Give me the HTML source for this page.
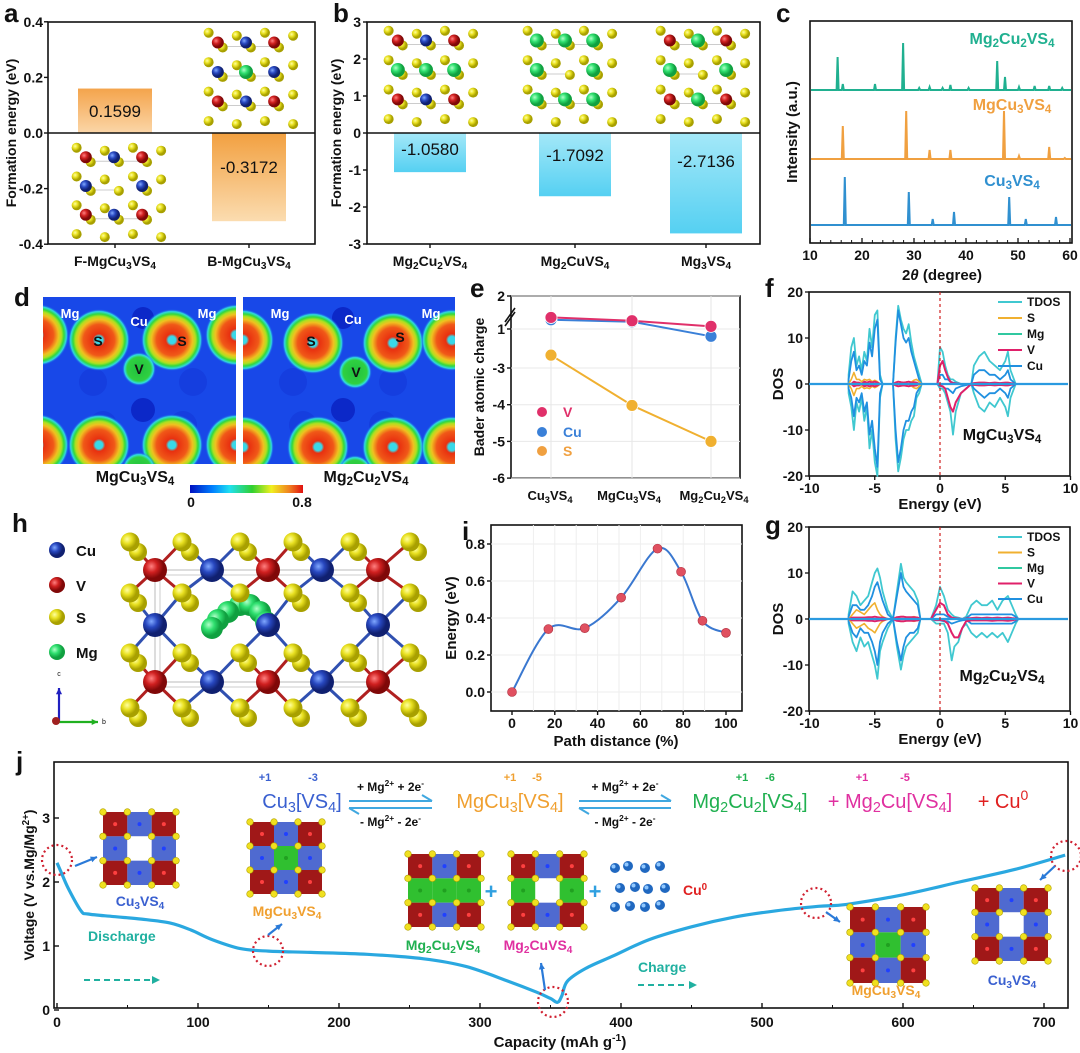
<!DOCTYPE html>
<html><head><meta charset="utf-8"><style>
html,body{margin:0;padding:0;background:#fff;}
svg{display:block;font-family:"Liberation Sans",Arial,sans-serif;font-weight:bold;}
</style></head><body>
<svg id="fig" width="1080" height="1053" viewBox="0 0 1080 1053" xmlns="http://www.w3.org/2000/svg">
<defs>
<linearGradient id="gOrUp" x1="0" y1="0" x2="0" y2="1"><stop offset="0" stop-color="#f4a44c"/><stop offset="1" stop-color="#fbd6a8"/></linearGradient>
<linearGradient id="gOrDn" x1="0" y1="0" x2="0" y2="1"><stop offset="0" stop-color="#f2a040"/><stop offset="1" stop-color="#fbdcb0"/></linearGradient>
<linearGradient id="gCy" x1="0" y1="0" x2="0" y2="1"><stop offset="0" stop-color="#a4e8f8"/><stop offset="1" stop-color="#55d0f2"/></linearGradient>
<radialGradient id="hS"><stop offset="0" stop-color="#38d8e8"/><stop offset="0.12" stop-color="#38d8e8"/><stop offset="0.2" stop-color="#e83010"/><stop offset="0.5" stop-color="#f05818"/><stop offset="0.66" stop-color="#f0c020"/><stop offset="0.76" stop-color="#b0e020"/><stop offset="0.84" stop-color="#30d840"/><stop offset="0.92" stop-color="#30d8e0"/><stop offset="1" stop-color="#1848e8" stop-opacity="0"/></radialGradient>
<radialGradient id="hV"><stop offset="0" stop-color="#20c040"/><stop offset="0.7" stop-color="#30d040"/><stop offset="0.85" stop-color="#30e0e0"/><stop offset="1" stop-color="#1848e8" stop-opacity="0"/></radialGradient>
<linearGradient id="cbar" x1="0" x2="1"><stop offset="0" stop-color="#0010c0"/><stop offset="0.2" stop-color="#0080ff"/><stop offset="0.35" stop-color="#20e0f0"/><stop offset="0.55" stop-color="#30d030"/><stop offset="0.72" stop-color="#f0f020"/><stop offset="0.88" stop-color="#f08020"/><stop offset="1" stop-color="#e01010"/></linearGradient>
<radialGradient id="bR" cx="0.35" cy="0.35"><stop offset="0" stop-color="#ff8080"/><stop offset="0.5" stop-color="#d02020"/><stop offset="1" stop-color="#800808"/></radialGradient>
<radialGradient id="bB" cx="0.35" cy="0.35"><stop offset="0" stop-color="#80a8ff"/><stop offset="0.5" stop-color="#2848c0"/><stop offset="1" stop-color="#102070"/></radialGradient>
<radialGradient id="bY" cx="0.35" cy="0.35"><stop offset="0" stop-color="#ffffa0"/><stop offset="0.5" stop-color="#e8e020"/><stop offset="1" stop-color="#a8a000"/></radialGradient>
<radialGradient id="bG" cx="0.35" cy="0.35"><stop offset="0" stop-color="#b0ffc8"/><stop offset="0.5" stop-color="#30e070"/><stop offset="1" stop-color="#10a040"/></radialGradient>
<clipPath id="clipL"><rect x="43" y="297" width="193" height="167"/></clipPath>
<clipPath id="clipR"><rect x="243" y="297" width="212" height="167"/></clipPath>
</defs>
</svg>
<script>
// ---------- data ----------
const aCats = ['F-MgCu3VS4','B-MgCu3VS4'];
const aVals = [0.1599, -0.3172];
const aTicks = [0.4,0.2,0.0,-0.2,-0.4];
const bCats = ['Mg2Cu2VS4','Mg2CuVS4','Mg3VS4'];
const bVals = [-1.0580, -1.7092, -2.7136];
const bTicks = [3,2,1,0,-1,-2,-3];
const cTicks = [10,20,30,40,50,60];
const cNames = ['Mg2Cu2VS4','MgCu3VS4','Cu3VS4'];
const cPos1 = [15.3,16.3,22.5,27.9,31,33,35.5,37,40.5,46,47.5,50.2,53.2,56,58.5];
const cInt1 = [33,6,6,47,2,3,2,5,2,29,13,3,4,4,2];
const cPos2 = [16.3,28.5,33,37,47.3,50.2,56,59];
const cInt2 = [33,48,9,9,48,3,12,1];
const cPos3 = [16.7,29,33.6,37.7,48.3,51.5,57.3];
const cInt3 = [48,33,6,13,28,6,8];
const eCats = ['Cu3VS4','MgCu3VS4','Mg2Cu2VS4'];
const eV = [1.35, 1.25, 1.08];
const eCu = [1.28, 1.22, 0.78];
const eS = [-2.65, -4.02, -5.0];
const eTicks = [2,1,-3,-4,-5,-6];
const fE = [-7,-6.8,-6.6,-6.4,-6.2,-6,-5.8,-5.6,-5.4,-5.2,-5,-4.8,-4.6,-4.4,-3.6,-3.4,-3.2,-3,-2.8,-2.6,-2.4,-2.2,-2,-1.8,-1.6,-1.4,-0.2,0,0.2,0.4,0.6,0.8,1,1.2,1.6,2.4,2.6,3,3.4,3.8,4.2,4.6,5,5.2,5.4,5.8];
const fTup = [2,8,10,4,6,3,7,5,12,8,15,16,2,0,0,10,17,14,12,11,13,9,6,4,2,0,0,8,7,4,2,1,1,0.5,0,0,4,6,7,5,4,3,5,7,3,0];
const fTdn = [-2,-5,-10,-4,-6,-3,-8,-5,-14,-10,-17,-20,-3,0,0,-12,-19,-16,-12,-10,-10,-8,-7,-3,-2,0,0,-1,-1,-2,-4,-6,-11,-6,-2,0,-2,-5,-6,-4,-5,-3,-5,-7,-3,0];
const fCuUp = [1,5,7,3,4,2,5,4,9,6,12,14,1,0,0,9,16,13,10,9,10,7,5,3,1,0,0,2,2,1,1,0.5,0.3,0.2,0,0,2,3,3,2,2,1,2,3,1,0];
const fCuDn = [-1,-3,-7,-3,-4,-2,-6,-4,-11,-8,-14,-18,-2,0,0,-10,-17,-14,-10,-8,-8,-6,-5,-2,-1,0,0,-0.5,-0.5,-1,-1,-1.5,-2,-1,-0.5,0,-1,-2,-3,-2,-2,-1,-2,-3,-1,0];
const fVUp = [0,0,0.5,0.3,0.3,0,0.5,0.3,0.5,0.3,0.5,0.3,0,0,0,0.3,0.5,0.4,0.3,0.4,0.5,0.3,0.4,0.3,0,0,0,4,5,3,1.5,0.5,0.2,0.1,0,0,0.2,0.3,0.3,0.2,0.3,0.2,0.3,0.3,0.2,0];
const fVDn = [0,0,-0.5,-0.3,-0.3,0,-0.5,-0.3,-0.5,-0.3,-0.5,-0.3,0,0,0,-0.3,-0.5,-0.4,-0.3,-0.4,-0.5,-0.3,-0.4,-0.3,0,0,0,-0.3,-0.5,-1,-3,-5,-6,-4,-2,0,-0.2,-0.3,-0.3,-0.2,-0.3,-0.2,-0.3,-0.3,-0.2,0];
const fSUp = [0,1,2.5,1,1,0.5,1,0.8,1,0.5,0.8,0.5,0,0,0,0.3,0.5,0.4,0.3,0.4,0.5,0.4,0.8,1,0.5,0,0,0,0,0,0,0,0,0,0,0,0,0,0,0,0,0,0,0,0,0];
const fSDn = [0,-1,-2.5,-1,-1,-0.5,-1,-0.8,-1,-0.5,-0.8,-0.5,0,0,0,-0.3,-0.5,-0.4,-0.3,-0.4,-0.5,-0.4,-0.8,-1,-0.5,0,0,0,0,0,0,0,0,0,0,0,0,0,0,0,0,0,0,0,0,0];
const gE = [-7,-6.7,-6.4,-6.1,-5.8,-5.5,-5.2,-5,-4.8,-4.6,-4.4,-4,-3.6,-3.3,-3,-2.8,-2.6,-2.3,-2,-1.7,-1.5,-0.7,-0.3,0,0.3,0.6,0.9,1.1,1.4,1.7,2,2.4,2.8,3.2,3.6,4,4.4,4.8,5.2,5.5,5.8,6];
const gTup = [1,6,5,3,4,5,8,10,11,9,6,2,0,6,12,9,8,7,6,4,0,0,3,7,5,2,1,0.5,0.3,0,0.5,3,4,3,3,4,2,4,5,3,1,0];
const gTdn = [-1,-5,-7,-4,-6,-5,-8,-10,-13,-7,-5,-2,0,-6,-11,-8,-6,-5,-4,-3,0,0,-1,-1,-1,-3,-9,-6,-5,-2,-1,-3,-4,-3,-4,-3,-4,-3,-5,-3,-1,0];
const gCuUp = [0.5,3,3,2,2,3,5,7,8,6,4,1,0,5,10,7,6,5,4,3,0,0,1,1,1,0.5,0.3,0.2,0.1,0,0.2,1,1,1,1,1,1,1,1,1,0.5,0];
const gCuDn = [-0.5,-3,-4,-2,-3,-3,-5,-7,-10,-5,-3,-1,0,-5,-9,-6,-4,-3,-3,-2,0,0,-0.3,-0.3,-0.5,-0.5,-1,-0.8,-0.5,-0.3,-0.2,-1,-1,-1,-1,-1,-1,-1,-1,-1,-0.5,0];
const gVUp = [0,0.3,0.3,0.3,0.3,0.4,0.4,0.5,0.4,0.3,0.3,0,0,0.4,0.5,0.5,0.4,0.4,0.4,0.3,0,0,2,3.5,3,1,0.3,0.2,0.1,0,0.1,0.2,0.3,0.2,0.3,0.2,0.3,0.2,0.3,0.2,0.1,0];
const gVDn = [0,-0.3,-0.3,-0.3,-0.3,-0.4,-0.4,-0.5,-0.4,-0.3,-0.3,0,0,-0.4,-0.5,-0.5,-0.4,-0.4,-0.4,-0.3,0,0,-0.2,-0.2,-0.3,-1,-3,-4,-4,-2,-0.5,-0.3,-0.3,-0.3,-0.3,-0.4,-0.3,-0.3,-0.4,-0.3,-0.1,0];
const gSUp = [0,1,2,1.5,1,2,3,3.5,2,1,0.5,0,0,0.3,0.5,0.5,0.4,0.3,0.5,0.3,0,0,0,0,0,0,0,0,0,0,0,0,0,0,0,0,0,0,0,0,0,0];
const gSDn = [0,-1,-2,-1.5,-1,-2,-2.5,-3,-2,-1,-0.5,0,0,-0.3,-0.5,-0.5,-0.4,-0.3,-0.5,-0.3,0,0,0,0,0,0,0,0,0,0,0,0,0,0,0,0,0,0,0,0,0,0];
const dosTicksX = [-10,-5,0,5,10];
const dosTicksY = [20,10,0,-10,-20];
const dosLegend = ['TDOS','S','Mg','V','Cu'];
const iDist = [0,17,34,51,68,79,89,100];
const iEnergy = [0.0,0.34,0.345,0.51,0.775,0.65,0.385,0.32];
const iTicksX = [0,20,40,60,80,100];
const iTicksY = [0.0,0.2,0.4,0.6,0.8];
const jCap = [0,3,8,17,22,40,60,80,95,110,130,150,180,220,260,290,320,340,350,355,358,362,375,395,420,450,480,510,540,560,600,640,680,715];
const jVolt = [2.3,2.15,1.9,1.55,1.5,1.46,1.42,1.36,1.25,1.1,0.96,0.92,0.9,0.87,0.8,0.68,0.45,0.28,0.18,0.12,0.22,0.45,0.65,0.85,1.1,1.3,1.45,1.55,1.62,1.65,1.8,2.0,2.2,2.42];
const jTicksX = [0,100,200,300,400,500,600,700];
const jTicksY = [0,1,2,3];

// ---------- helpers ----------
const NS='http://www.w3.org/2000/svg';
const svg=document.getElementById('fig');
function mk(tag,attrs,parent){const e=document.createElementNS(NS,tag);for(const k in attrs)e.setAttribute(k,attrs[k]);(parent||svg).appendChild(e);return e;}
function fmla(s){return s.replace(/([A-Za-z\]])(\d)/g,'$1<tspan baseline-shift="-28%" font-size="72%">$2</tspan>');}
function T(x,y,s,size,opt){opt=opt||{};const t=mk('text',{x:x,y:y,'font-size':size,'text-anchor':opt.a||'middle',fill:opt.c||'#111'},opt.p);if(opt.r)t.setAttribute('transform','rotate(-90 '+x+' '+y+')');if(opt.n)t.setAttribute('font-weight','normal');t.innerHTML=opt.f?fmla(s):s;return t;}
function frame(x0,y0,x1,y1,name){const r=mk('rect',{x:x0,y:y0,width:x1-x0,height:y1-y0,fill:'none',stroke:'#111','stroke-width':1.6});return r;}
function path(pts){return pts.map((p,i)=>(i?'L':'M')+p[0].toFixed(1)+' '+p[1].toFixed(1)).join(' ');}
function smooth(pts){let d='M'+pts[0][0]+' '+pts[0][1];for(let i=0;i<pts.length-1;i++){const p0=pts[i-1]||pts[i],p1=pts[i],p2=pts[i+1],p3=pts[i+2]||p2;d+=' C'+(p1[0]+(p2[0]-p0[0])/6)+' '+(p1[1]+(p2[1]-p0[1])/6)+' '+(p2[0]-(p3[0]-p1[0])/6)+' '+(p2[1]-(p3[1]-p1[1])/6)+' '+p2[0]+' '+p2[1];}return d;}
function ball(cx,cy,r,g,parent){return mk('circle',{cx:cx,cy:cy,r:r,fill:'url(#'+g+')'},parent);}
function letter(x,y,s){const t=T(x,y,s,26,{a:'start'});}

function miniCrystal(x,y,w,h,rows,name){const g=mk('g',{});
 const cols={R:'bR',B:'bB',G:'bG'};
 for(let r=0;r<3;r++)for(let c=0;c<3;c++){const ch=rows[r][c];const cx=x+w*(0.18+0.32*c),cy=y+h*(0.18+0.32*r);
  if(ch!=='W'){mk('line',{x1:cx,y1:cy,x2:cx+w*0.32*(c<2?1:0),y2:cy,stroke:'#ccc','stroke-width':1},g);}}
 for(let r=0;r<4;r++)for(let c=0;c<4;c++){ball(x+w*(0.03+0.32*c),y+h*(0.03+0.32*r)+(c%2?3:0),5,'bY',g);}
 for(let r=0;r<3;r++)for(let c=0;c<3;c++){ball(x+w*(0.19+0.32*c),y+h*(0.19+0.32*r),5,'bY',g);}
 for(let r=0;r<3;r++)for(let c=0;c<3;c++){const ch=rows[r][c];if(ch==='W')continue;ball(x+w*(0.18+0.32*c)-4,y+h*(0.18+0.32*r)-4,ch==='G'?7:6,cols[ch],g);}
 return g;}
function tile(x,y,s,rows,name){const g=mk('g',{});
 const col={R:'#a01818',B:'#3050c8',G:'#30c030',W:'#ffffff'},dot={R:'#ff4040',B:'#2040ff',G:'#20a020'};const c=s/3;
 for(let r=0;r<3;r++)for(let k=0;k<3;k++){const ch=rows[r][k];mk('rect',{x:x+k*c,y:y+r*c,width:c,height:c,fill:col[ch],opacity:ch==='B'?0.85:1},g);if(ch!=='W')mk('circle',{cx:x+k*c+c/2,cy:y+r*c+c/2,r:2,fill:dot[ch]},g);}
 for(let r=0;r<4;r++)for(let k=0;k<4;k++)mk('circle',{cx:x+k*c,cy:y+r*c,r:3.3,fill:'#f0e020',stroke:'#b0a000','stroke-width':0.6},g);
 return g;}
function arrow(x1,y1,x2,y2,col,name){const g=mk('g',{});
 mk('line',{x1:x1,y1:y1,x2:x2,y2:y2,stroke:col,'stroke-width':2.2},g);const a=Math.atan2(y2-y1,x2-x1),L=7;
 mk('path',{d:'M'+x2+' '+y2+' L'+(x2-L*Math.cos(a-0.45))+' '+(y2-L*Math.sin(a-0.45))+' L'+(x2-L*Math.cos(a+0.45))+' '+(y2-L*Math.sin(a+0.45))+'Z',fill:col},g);return g;}

// ================= Panel a =================
letter(4,22,'a');
const ay=v=>133-v*278;
frame(48,22,315,244,'panel-a-plot-frame');
miniCrystal(206,30,88,92,['RBR','BGB','RBR'],'b-mgcu3vs4-structure');
miniCrystal(74,145,88,90,['RBR','BWB','RBR'],'f-mgcu3vs4-structure');
const aCx=[115,249];
aVals.forEach((v,i)=>{const y0=ay(0),y1=ay(v);const r=mk('rect',{x:aCx[i]-37,y:Math.min(y0,y1),width:74,height:Math.abs(y1-y0),fill:v>0?'url(#gOrUp)':'url(#gOrDn)'});
 
 const t=T(aCx[i],(y0+y1)/2+(v>0?6:-4),v.toFixed(4),17,{n:1});
 const xl=T(aCx[i],266,aCats[i],14,{f:1});
 mk('line',{x1:aCx[i],y1:244,x2:aCx[i],y2:248,stroke:'#111','stroke-width':1.4});});
mk('line',{x1:48,y1:ay(0),x2:315,y2:ay(0),stroke:'#111','stroke-width':1.4});
aTicks.forEach(v=>{mk('line',{x1:44,y1:ay(v),x2:48,y2:ay(v),stroke:'#111','stroke-width':1.4});const t=T(43,ay(v)+5,v.toFixed(1),14,{a:'end'});});
{const t=T(16,133,'Formation energy (eV)',14,{r:1});}

// ================= Panel b =================
letter(333,22,'b');
const by=v=>133-v*37;
frame(367,22,760,244,'panel-b-plot-frame');
const bCx=[430,575,706];
miniCrystal(386,28,88,92,['RBR','GGG','RBR'],'mg2cu2vs4-structure');
miniCrystal(525,28,88,92,['GGG','GWG','GGG'],'mg2cuvs4-structure');
miniCrystal(658,28,88,92,['RGR','GWG','RGR'],'mg3vs4-structure');
bVals.forEach((v,i)=>{const y0=by(0),y1=by(v);const r=mk('rect',{x:bCx[i]-36,y:y0,width:72,height:y1-y0,fill:'url(#gCy)'});
 
 const t=T(bCx[i],y0+22+i*6,v.toFixed(4),17,{n:1});
 const xl=T(bCx[i],266,bCats[i],14,{f:1});
 mk('line',{x1:bCx[i],y1:244,x2:bCx[i],y2:248,stroke:'#111','stroke-width':1.4});});
mk('line',{x1:367,y1:by(0),x2:760,y2:by(0),stroke:'#111','stroke-width':1.4});
bTicks.forEach(v=>{mk('line',{x1:363,y1:by(v),x2:367,y2:by(v),stroke:'#111','stroke-width':1.4});const t=T(361,by(v)+5,String(v),14,{a:'end'});});
{const t=T(341,133,'Formation energy (eV)',14,{r:1});}

// ================= Panel c =================
letter(776,22,'c');
const cx=d=>810+(d-10)*5.2;
frame(810,21,1072,243,'panel-c-plot-frame');
const cBase=[90,159,225],cCol=['#20b090','#f0a040','#3090d0'],cP=[cPos1,cPos2,cPos3],cI=[cInt1,cInt2,cInt3];
cP.forEach((pos,k)=>{let pts=[[811,cBase[k]]];pos.forEach((p,i)=>{const x=cx(p);pts.push([x-1,cBase[k]],[x,cBase[k]-cI[k][i]],[x+1,cBase[k]]);});pts.push([1071,cBase[k]]);
 const pl=mk('path',{d:path(pts),fill:'none',stroke:cCol[k],'stroke-width':2});
 const t=T(1012,[44,110,186][k],cNames[k],16,{f:1,c:cCol[k]});});
cTicks.forEach(v=>{mk('line',{x1:cx(v),y1:243,x2:cx(v),y2:238,stroke:'#111','stroke-width':1.3});const t=T(cx(v),260,String(v),14);});
for(let v=12;v<60;v+=2)mk('line',{x1:cx(v),y1:243,x2:cx(v),y2:240,stroke:'#111','stroke-width':1});
{const t=T(942,280,'2<tspan font-style="italic">θ</tspan>  (degree)',15);}
{const t=T(797,132,'Intensity (a.u.)',15,{r:1});}

// ================= Panel d =================
letter(14,306,'d');
function heat(ox,clip,name,Sx,Vx){const g=mk('g',{'clip-path':'url(#'+clip+')'});
 mk('rect',{x:ox-10,y:297,width:230,height:167,fill:'#1848e8'},g);
 [[ox+50,382],[ox+150,382],[ox+60,425],[ox+140,425]].forEach(p=>mk('circle',{cx:p[0],cy:p[1],r:14,fill:'#1438d8',opacity:0.6},g));
 mk('circle',{cx:ox+100,cy:410,r:12,fill:'#0c28c8'},g);
 mk('circle',{cx:ox+100,cy:318,r:11,fill:'#0c28c8'},g);
 Sx.forEach(p=>mk('circle',{cx:p[0],cy:p[1],r:31,fill:'url(#hS)'},g));
 mk('circle',{cx:Vx[0],cy:Vx[1],r:17,fill:'url(#hV)'},g);
 mk('circle',{cx:Vx[0],cy:Vx[1]+100,r:17,fill:'url(#hV)'},g);return g;}
heat(43,'clipL','charge-density-mgcu3vs4',[[99,340],[172,340],[99,445],[172,445],[38,335],[236,335],[38,445],[236,445]],[139,369]);
heat(243,'clipR','charge-density-mg2cu2vs4',[[313,343],[393,343],[318,447],[393,447],[243,340],[452,340],[243,447],[452,447]],[355,372]);
[['Mg',70,318],['Cu',139,326],['Mg',207,318],['Mg',280,318],['Cu',353,324],['Mg',431,318]].forEach((l,i)=>{const t=T(l[1],l[2],l[0],13,{c:'#fff'});});
[['S',98,346],['S',182,346],['V',139,374],['S',311,346],['S',400,342],['V',356,377]].forEach((l,i)=>{const t=T(l[1],l[2],l[0],14);});
{const t=T(135,482,'MgCu3VS4',16,{f:1});}
{const t=T(366,482,'Mg2Cu2VS4',16,{f:1});}
{const r=mk('rect',{x:190,y:485,width:113,height:8,fill:'url(#cbar)'});}
T(191,507,'0',14);T(302,507,'0.8',14);

// ================= Panel e =================
letter(470,297,'e');
const exs=[551,632,711];
const ey=v=>v>0?329-(v-1)*33:368-(v+3)*36.7;
frame(511,296,740,478,'panel-e-plot-frame');
for(let i=0;i<3;i++)mk('line',{x1:exs[i],y1:296,x2:exs[i],y2:478,stroke:'#e4e4e4','stroke-width':1});
eTicks.forEach(v=>{mk('line',{x1:511,y1:ey(v),x2:740,y2:ey(v),stroke:'#e8e8e8','stroke-width':1});mk('line',{x1:507,y1:ey(v),x2:511,y2:ey(v),stroke:'#111','stroke-width':1.4});const t=T(505,ey(v)+5,String(v),14,{a:'end'});});
mk('line',{x1:505,y1:322,x2:515,y2:308,stroke:'#111','stroke-width':1.6});mk('line',{x1:505,y1:326,x2:515,y2:312,stroke:'#111','stroke-width':1.6});
[[eS,'#f0b030','s'],[eCu,'#3a80d8','cu'],[eV,'#e0306a','v']].forEach(s=>{const pl=mk('path',{d:path(s[0].map((v,i)=>[exs[i],ey(v)])),fill:'none',stroke:s[1],'stroke-width':2});
 s[0].forEach((v,i)=>{const c=mk('circle',{cx:exs[i],cy:ey(v),r:6,fill:s[1],stroke:'#fff','stroke-width':0.8});});});
eCats.forEach((c,i)=>{const t=T([550,629,714][i],500,c,13,{f:1});});
[['V','#e0306a',417],['Cu','#3a80d8',437],['S','#f0a040',456]].forEach(l=>{mk('circle',{cx:542,cy:l[2]-5,r:5,fill:l[1]});const t=T(563,l[2],l[0],14,{a:'start',c:l[1]});});
{const t=T(484,387,'Bader atomic charge',14,{r:1});}

// ================= DOS panels f,g =================
function dos(pref,top,bot,E,Tu,Td,Cu,Cd,Vu,Vd,Su,Sd,label){
 const zero=(top+bot)/2,sc=(bot-top)/40;const X=e=>940+e*13.05,Y=v=>zero-v*sc;
 frame(809,top,1070,bot,'panel-'+pref+'-plot-frame');
 const draw=(arr,col,w,nm)=>{const pts=[[X(E[0]),Y(0)]].concat(arr.map((v,i)=>[X(E[i]),Y(v)]));const pl=mk('path',{d:path(pts),fill:'none',stroke:col,'stroke-width':w,'stroke-linejoin':'round'});};
 draw(Tu,'#40c8d0',1.8,'tdos-up-'+pref);draw(Td,'#40c8d0',1.8,'tdos-down-'+pref);
 draw(Cu,'#2090e0',1.8,'cu-up-'+pref);draw(Cd,'#2090e0',1.8,'cu-down-'+pref);
 draw(Su,'#f0b030',1.6,'s-up-'+pref);draw(Sd,'#f0b030',1.6,'s-down-'+pref);
 draw(Vu,'#e0206a',2,'v-up-'+pref);draw(Vd,'#e0206a',2,'v-down-'+pref);
 mk('line',{x1:809,y1:zero,x2:1068,y2:zero,stroke:'#2a9ae0','stroke-width':2.2});
 mk('line',{x1:X(0),y1:top,x2:X(0),y2:bot,stroke:'#d02020','stroke-width':1.2,'stroke-dasharray':'3,3'});
 dosTicksX.forEach(v=>{mk('line',{x1:X(v),y1:bot,x2:X(v),y2:bot+4,stroke:'#111','stroke-width':1.3});const t=T(X(v),bot+17,String(v),14);});
 dosTicksY.forEach(v=>{mk('line',{x1:805,y1:Y(v),x2:809,y2:Y(v),stroke:'#111','stroke-width':1.3});const t=T(803,Y(v)+5,String(v),14,{a:'end'});});
 const cols=['#40c8d0','#f0b030','#30c8a0','#e0206a','#2090e0'];
 dosLegend.forEach((l,i)=>{const y=top+10+i*(pref=='f'?16:15.5);mk('line',{x1:998,y1:y,x2:1022,y2:y,stroke:cols[i],'stroke-width':2});const t=T(1027,y+4,l,12,{a:'start'});});
 {const t=T(1002,bot-(pref=='f'?36:30),label,16,{f:1});}
 {const t=T(940,bot+33,'Energy (eV)',15);}
 {const t=T(783,zero,'DOS',15,{r:1});}
}
letter(765,297,'f');
dos('f',292,476,fE,fTup,fTdn,fCuUp,fCuDn,fVUp,fVDn,fSUp,fSDn,'MgCu3VS4');
letter(765,534,'g');
dos('g',527,711,gE,gTup,gTdn,gCuUp,gCuDn,gVUp,gVDn,gSUp,gSDn,'Mg2Cu2VS4');

// ================= Panel h =================
letter(12,532,'h');
{const g=mk('g',{});
 mk('rect',{x:155,y:570,width:223,height:112,fill:'none',stroke:'#bbb','stroke-width':1},g);
 mk('rect',{x:160,y:575,width:223,height:112,fill:'none',stroke:'#ccc','stroke-width':1},g);
 const Sx=[130,182,240,293,350,410],Sy=[542,593,653,708];
 const metals=[[155,570,'bR'],[212,570,'bB'],[268,570,'bR'],[322,570,'bB'],[378,570,'bR'],[155,625,'bB'],[268,625,'bB'],[378,625,'bB'],[155,682,'bR'],[212,682,'bB'],[268,682,'bR'],[322,682,'bB'],[378,682,'bR']];
 metals.forEach(m=>Sx.forEach(sx=>Sy.forEach(sy=>{if(Math.abs(sx-m[0])<35&&Math.abs(sy-m[1])<35)mk('line',{x1:m[0],y1:m[1],x2:sx,y2:sy,stroke:m[2]=='bR'?'#b02020':'#3050b0','stroke-width':3},g);})));
 Sx.forEach((sx,i)=>Sy.forEach((sy,j)=>{mk('line',{x1:sx,y1:sy,x2:sx+8,y2:sy+10,stroke:'#d8d020','stroke-width':3},g);}));
 Sx.forEach((sx,i)=>Sy.forEach((sy,j)=>{ball(sx+8,sy+10,9,'bY',g);}));
 [[240,605],[228,612],[218,620],[212,628],[250,605],[260,612],[266,622]].forEach(p=>ball(p[0],p[1],11,'bG',g));
 metals.forEach(m=>ball(m[0],m[1],12,m[2],g));
 Sx.forEach((sx,i)=>Sy.forEach((sy,j)=>{ball(sx,sy,9.5,'bY',g);}));
}
[['Cu','bB',550],['V','bR',585],['S','bY',617],['Mg','bG',652]].forEach(l=>{ball(57,l[2],8,l[1]);const t=T(76,l[2]+6,l[0],15,{a:'start'});});
arrow(59,722,59,688,'#2020c0','axis-c-arrow');arrow(59,722,98,722,'#20b020','axis-b-arrow');
mk('circle',{cx:56,cy:721,r:4,fill:'#a02020'});T(59,676,'c',7,{n:1});T(104,724,'b',7,{n:1});

// ================= Panel i =================
letter(462,540,'i');
const ix=p=>512+p*2.14, iy=v=>692-v*185;
frame(491,525,742,711,'panel-i-plot-frame');
for(let p=10;p<100;p+=10)mk('line',{x1:ix(p),y1:525,x2:ix(p),y2:711,stroke:'#eee','stroke-width':1});
iTicksY.forEach(v=>{mk('line',{x1:491,y1:iy(v),x2:742,y2:iy(v),stroke:'#eee'});mk('line',{x1:487,y1:iy(v),x2:491,y2:iy(v),stroke:'#111','stroke-width':1.4});const t=T(485,iy(v)+5,v.toFixed(1),14,{a:'end'});});
iTicksX.forEach(v=>{mk('line',{x1:ix(v),y1:711,x2:ix(v),y2:715,stroke:'#111','stroke-width':1.4});const t=T(ix(v),728,String(v),14);});
{const pts=iDist.map((d,i)=>[ix(d),iy(iEnergy[i])]);const pl=mk('path',{d:smooth(pts),fill:'none',stroke:'#3a78d0','stroke-width':2});
 pts.forEach((p,i)=>{const c=mk('circle',{cx:p[0],cy:p[1],r:4.5,fill:'#e05060',stroke:'#b03040','stroke-width':0.6});});}
{const t=T(616,746,'Path distance (%)',15);}
{const t=T(456,618,'Energy (eV)',15,{r:1});}

// ================= Panel j =================
letter(16,770,'j');
const jx=c=>57+c*1.41, jy=v=>1010-v*64;
frame(54,762,1068,1008,'panel-j-plot-frame');
jTicksX.forEach(v=>{mk('line',{x1:jx(v),y1:1008,x2:jx(v),y2:1003,stroke:'#111','stroke-width':1.4});const t=T(jx(v),1027,String(v),14);});
for(let v=50;v<715;v+=100)mk('line',{x1:jx(v),y1:1008,x2:jx(v),y2:1005,stroke:'#111'});
jTicksY.forEach(v=>{mk('line',{x1:54,y1:jy(v),x2:59,y2:jy(v),stroke:'#111','stroke-width':1.4});const t=T(50,jy(v)+5,String(v),14,{a:'end'});});
{const t=T(560,1047,'Capacity (mAh g<tspan baseline-shift="super" font-size="70%">-1</tspan>)',15);}
{const t=T(34,885,'Voltage (V vs.Mg/Mg<tspan baseline-shift="super" font-size="70%">2+</tspan>)',14,{r:1});}
{const pl=mk('path',{d:smooth(jCap.map((c,i)=>[jx(c),jy(jVolt[i])])),fill:'none',stroke:'#2aa8e0','stroke-width':3.2});}
[[57,860],[268,951],[553,1002],[816,903],[1066,856]].forEach((p,i)=>{const c=mk('circle',{cx:p[0],cy:p[1],r:15,fill:'none',stroke:'#d02030','stroke-width':2.2,'stroke-dasharray':'2,3'});});
tile(103,812,73,['RBR','BWB','RBR'],'tile-cu3vs4-start');
tile(250,822,72,['RBR','BGB','RBR'],'tile-mgcu3vs4-discharge');
tile(408,854,73,['RBR','GGG','RBR'],'tile-mg2cu2vs4');
tile(511,854,73,['RBR','GWG','RBR'],'tile-mg2cuvs4');
tile(850,907,76,['RBR','BGB','RBR'],'tile-mgcu3vs4-charge');
tile(975,888,73,['RBR','BWB','RBR'],'tile-cu3vs4-end');
{const g=mk('g',{});
 [[615,868],[628,866],[645,868],[660,866],[620,888],[635,887],[648,889],[665,888],[615,907],[630,906],[645,907],[660,905]].forEach(p=>{mk('circle',{cx:p[0],cy:p[1],r:5,fill:'#2068c0'},g);mk('circle',{cx:p[0]-1.5,cy:p[1]-1.5,r:2,fill:'#90c8ff'},g);});}
[['Cu3VS4',140,906,'#3a60d0'],['MgCu3VS4',287,916,'#f0a030'],['Mg2Cu2VS4',443,950,'#20b050'],['Mg2CuVS4',538,950,'#e030a0'],['MgCu3VS4',886,995,'#f0a030'],['Cu3VS4',1012,985,'#3a60d0']].forEach((l,i)=>{const t=T(l[1],l[2],l[0],14,{f:1,c:l[3]});});
{const t=T(683,895,'Cu<tspan baseline-shift="super" font-size="70%">0</tspan>',14,{a:'start',c:'#e02020'});}
T(491,899,'+',22,{c:'#30a0e0'});T(595,899,'+',22,{c:'#30a0e0'});
arrow(75,866,97,857,'#2a7ad8','arrow-to-cu3vs4');arrow(268,935,282,924,'#2a7ad8','arrow-to-mgcu3vs4');
arrow(545,990,541,963,'#2a7ad8','arrow-to-mg2cuvs4');arrow(826,912,840,922,'#2a7ad8','arrow-to-mgcu3vs4-charge');arrow(1055,866,1040,880,'#2a7ad8','arrow-to-cu3vs4-end');
{const t=T(88,941,'Discharge',14,{a:'start',c:'#20b0a0'});}
{const l=mk('line',{x1:84,y1:980,x2:152,y2:980,stroke:'#20b0a0','stroke-width':2,'stroke-dasharray':'6,4'});mk('path',{d:'M160 980 L152 976 L152 984Z',fill:'#20b0a0'});}
{const t=T(638,972,'Charge',14,{a:'start',c:'#20b0a0'});}
{const l=mk('line',{x1:638,y1:985,x2:688,y2:985,stroke:'#20b0a0','stroke-width':2,'stroke-dasharray':'6,4'});mk('path',{d:'M697 985 L689 981 L689 989Z',fill:'#20b0a0'});}
function ox(x,y,s,c){T(x,y,s,11,{c:c});}
ox(265,781,'+1','#3a60d0');ox(313,781,'-3','#3a60d0');
ox(510,781,'+1','#f0a030');ox(537,781,'-5','#f0a030');
ox(742,781,'+1','#20b050');ox(770,781,'-6','#20b050');
ox(862,781,'+1','#e030a0');ox(905,781,'-5','#e030a0');
[['Cu3[VS4]',302,'#3a60d0'],['MgCu3[VS4]',510,'#f0a030'],['Mg2Cu2[VS4]',750,'#20b050'],['+ Mg2Cu[VS4]',890,'#e030a0'],['+ Cu<tspan baseline-shift="super" font-size="70%">0</tspan>',1003,'#e02020']].forEach((f,i)=>{const t=T(f[1],808,f[0],20,{n:1,f:i<4,c:f[2]});if(i==4)t.innerHTML=f[0];});
function harp(x1,x2,name){const g=mk('g',{});
 mk('line',{x1:x1,y1:801,x2:x2,y2:801,stroke:'#40a8e0','stroke-width':2},g);mk('path',{d:'M'+x2+' 801 L'+(x2-10)+' 795',stroke:'#40a8e0','stroke-width':2,fill:'none'},g);
 mk('line',{x1:x1,y1:808,x2:x2,y2:808,stroke:'#40a8e0','stroke-width':2},g);mk('path',{d:'M'+x1+' 808 L'+(x1+10)+' 814',stroke:'#40a8e0','stroke-width':2,fill:'none'},g);
 const c=(x1+x2)/2;T(c,791,'+ Mg<tspan baseline-shift="super" font-size="70%">2+</tspan> + 2e<tspan baseline-shift="super" font-size="70%">-</tspan>',12,{p:g});
 T(c,826,'- Mg<tspan baseline-shift="super" font-size="70%">2+</tspan> - 2e<tspan baseline-shift="super" font-size="70%">-</tspan>',12,{p:g});}
harp(349,432,'equilibrium-arrow-1');harp(579,671,'equilibrium-arrow-2');
</script>
</body></html>
